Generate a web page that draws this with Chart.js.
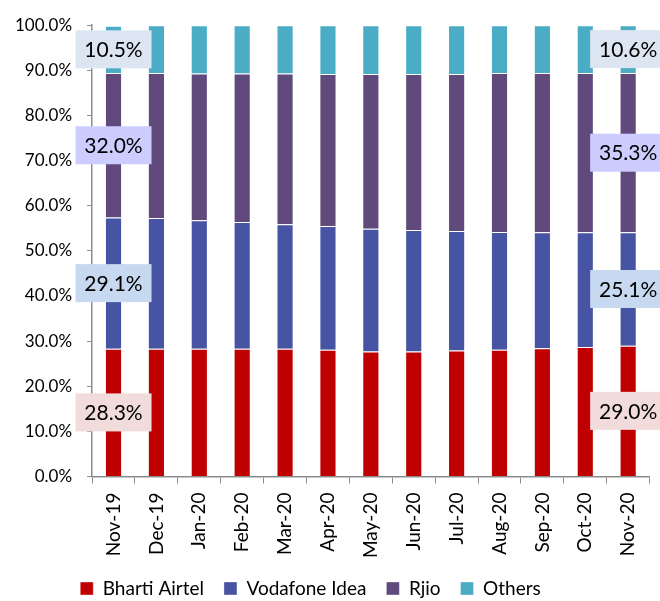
<!DOCTYPE html>
<html><head><meta charset="utf-8">
<script src="https://cdn.jsdelivr.net/npm/chart.js@4"></script>
<style>html,body{margin:0;padding:0;background:#fff}#wrap{width:660px;height:601px}</style>
</head><body><div id="wrap"><canvas id="c"></canvas></div>
<script>
const categories = ['Nov-19','Dec-19','Jan-20','Feb-20','Mar-20','Apr-20','May-20','Jun-20','Jul-20','Aug-20','Sep-20','Oct-20','Nov-20'];
const bhartiAirtel  = [28.3,28.3,28.3,28.3,28.3,28.1,27.7,27.7,27.9,28.1,28.4,28.7,29.0];
const vodafoneIdea  = [29.1,29.0,28.5,28.1,27.6,27.4,27.2,26.9,26.5,26.1,25.7,25.4,25.1];
const rjio          = [32.0,32.1,32.5,32.9,33.4,33.7,34.3,34.6,34.8,35.2,35.3,35.3,35.3];
const others        = [10.5,10.6,10.7,10.7,10.7,10.8,10.8,10.8,10.8,10.6,10.6,10.6,10.6];
const yTicks = [0,10,20,30,40,50,60,70,80,90,100];

const FONT = 'Lato, "Open Sans", sans-serif';
const labelBg = ['#F2DCDB','#C6D9F1','#CCCCFF','#DCE6F2'];

const labelPlugin = {
  id: 'endLabels',
  afterDraw(chart) {
    const ctx = chart.ctx;
    const n = categories.length;
    const idxs = [0, n - 1];
    ctx.save();
    ctx.font = '21px ' + FONT;
    ctx.textAlign = 'center';
    ctx.textBaseline = 'middle';
    chart.data.datasets.forEach((ds, di) => {
      const meta = chart.getDatasetMeta(di);
      idxs.forEach(i => {
        const el = meta.data[i];
        const cy = (el.y + el.base) / 2;
        const w = 76, h = 38;
        let left = el.x - w / 2;
        left = Math.min(left, chart.width - 67);
        ctx.fillStyle = labelBg[di];
        ctx.fillRect(left, cy - h / 2, w, h);
        ctx.fillStyle = '#000';
        ctx.fillText(ds.data[i].toFixed(1) + '%', left + w / 2, cy + 1);
      });
    });
    ctx.restore();
  }
};

const legendShift = {
  id: 'legendShift',
  afterLayout(chart) {
    const lg = chart.legend;
    if (!lg) return;
    lg.left -= 19; lg.right -= 19;
    lg.top -= 8; lg.bottom -= 8;
  }
};

const border = 'rgba(255,255,255,0.35)';
new Chart(document.getElementById('c'), {
  type: 'bar',
  data: {
    labels: categories,
    datasets: [
      {label: 'Bharti Airtel', data: bhartiAirtel, backgroundColor: '#C00000', borderColor: border, borderWidth: 1},
      {label: 'Vodafone Idea', data: vodafoneIdea, backgroundColor: '#4753A3', borderColor: border, borderWidth: 1},
      {label: 'Rjio', data: rjio, backgroundColor: '#604A7B', borderColor: border, borderWidth: 1},
      {label: 'Others', data: others, backgroundColor: '#4BACC6', borderColor: border, borderWidth: 1}
    ]
  },
  options: {
    responsive: true,
    maintainAspectRatio: false,
    animation: false,
    datasets: {bar: {categoryPercentage: 0.8, barPercentage: 0.5}},
    layout: {padding: {left: 0, top: 21, right: 1, bottom: -15}},
    plugins: {
      tooltip: {enabled: false},
      legend: {
        position: 'bottom',
        labels: {
          font: {family: FONT, size: 19},
          color: '#000',
          boxWidth: 13,
          boxHeight: 13,
          padding: 20
        }
      }
    },
    scales: {
      x: {
        stacked: true,
        grid: {display: true, drawOnChartArea: false, tickLength: 7, color: '#8c8c8c'},
        border: {color: '#8c8c8c', width: 1.5},
        ticks: {font: {family: FONT, size: 19}, color: '#000', minRotation: 90, maxRotation: 90, padding: 9}
      },
      y: {
        stacked: true,
        min: 0, max: 100,
        afterBuildTicks(axis) { axis.ticks = yTicks.map(v => ({value: v})); },
        grid: {display: true, drawOnChartArea: false, tickLength: 5, color: '#8c8c8c'},
        border: {color: '#8c8c8c', width: 1.5},
        ticks: {font: {family: FONT, size: 17}, color: '#000', padding: 15, callback: v => v.toFixed(1) + '%'}
      }
    }
  },
  plugins: [labelPlugin, legendShift]
});
</script></body></html>
